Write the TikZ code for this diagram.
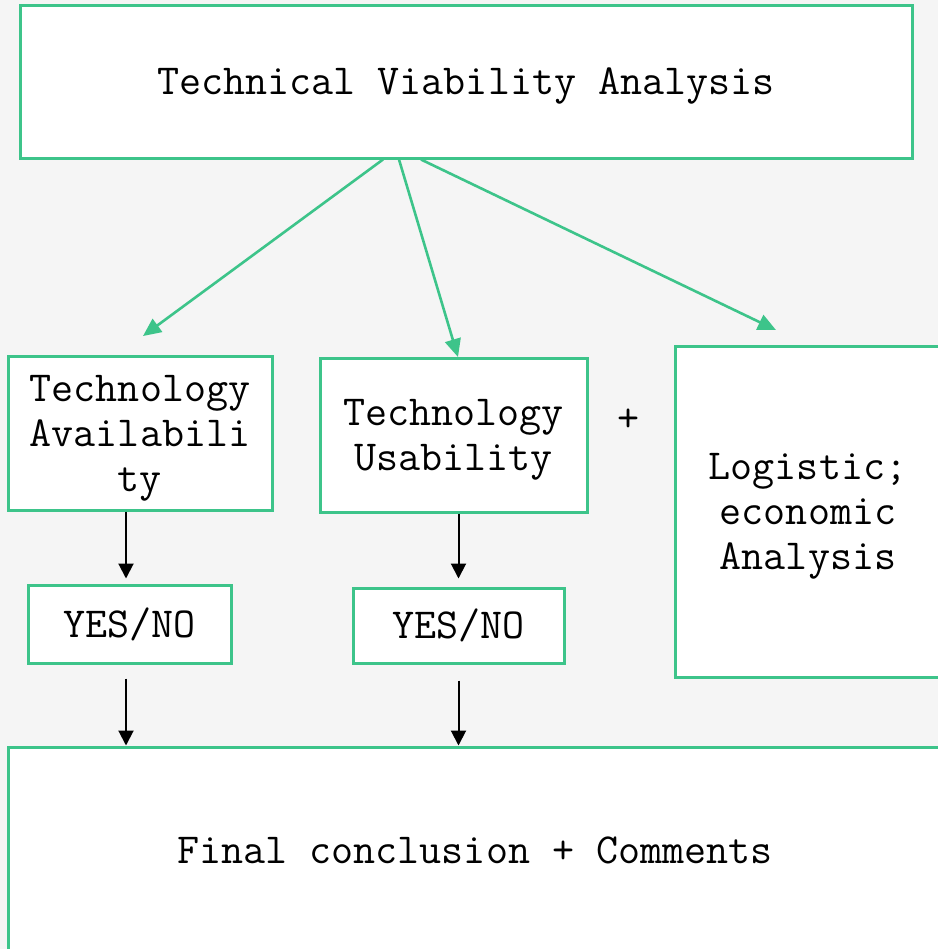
\documentclass[tikz,border=0pt]{standalone}
\usetikzlibrary{arrows.meta,positioning}
\definecolor{boxgreen}{HTML}{3DC48A}
\definecolor{paper}{HTML}{F5F5F5}

\begin{document}
\begin{tikzpicture}[
		x=0.5pt,y=-0.5pt,
		lab/.style={font=\ttfamily\fontsize{21.4}{22.5}\selectfont},
		box/.style={lab,draw=boxgreen,fill=white,line width=1.5pt,align=center,inner sep=0pt},
		flat/.style={text depth=0pt},
		garr/.style={-{Triangle[length=9pt,width=8pt]},draw=boxgreen,fill=boxgreen,line width=1.3pt},
		barr/.style={-{Triangle[length=7.5pt,width=7.5pt]},black,line width=1pt}
		]
		
		% --- Page
		\useasboundingbox (0,0) rectangle (938,949);
		\fill[paper] (0,0) rectangle (938,949);
		
		% --- Boxes
		\node[box,flat,minimum width=446pt,minimum height=76.5pt] (top) at (466,81.5) {Technical Viability Analysis};
		\node[box,flat,minimum width=132pt,minimum height=77pt] (avail) at (140,433) {Technology\\Availabili\\ty};
		\node[box,flat,minimum width=133.5pt,minimum height=77pt] (usab) at (453.5,435) {Technology\\Usability};
		\node[lab] (plus) at (629,420) {+};
		\node[box,flat,minimum width=133pt,minimum height=165.5pt] (logi) at (808,511.5) {Logistic;\\economic\\Analysis};
		\node[box,minimum width=101.5pt,minimum height=39pt] (yn1) at (129.5,624) {YES/NO};
		\node[box,minimum width=105.5pt,minimum height=37.5pt] (yn2) at (458.5,625.5) {YES/NO};
		\node[box,minimum width=467pt,minimum height=103pt] (final) at (475,850) {Final conclusion + Comments};
		
		% --- Green arrows
		\coordinate (availtip) at (143,336);
		\coordinate (usabtip) at (458,357);
		\coordinate (logitip) at (776,330);
		\draw[garr] ([xshift=-41.5pt]top.south) -- (availtip);
		\draw[garr] ([xshift=-33.5pt]top.south) -- (usabtip);
		\draw[garr] ([xshift=-22.5pt]top.south) -- (logitip);
		
		% --- Black arrows
		\draw[barr,shorten >=2.5pt] ([xshift=-7pt]avail.south) -- ([xshift=-7pt]avail.south |- yn1.north);
		\draw[barr,shorten >=4pt] (yn2.north |- usab.south) -- (yn2.north);
		\draw[barr,shorten <=7pt] ([xshift=-7pt]avail.south |- yn1.south) -- ([xshift=-7pt]avail.south |- final.north);
		\draw[barr,shorten <=8pt] (yn2.south) -- (yn2.south |- final.north);
		
	\end{tikzpicture}
\end{document}
